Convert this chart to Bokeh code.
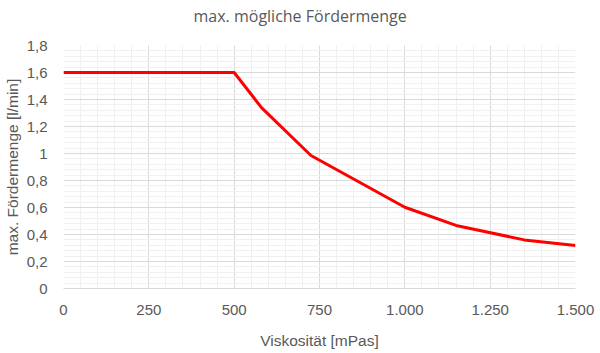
from bokeh.plotting import figure
from bokeh.models import FixedTicker, Range1d, Title
from bokeh.embed import file_html
from bokeh.resources import INLINE
import numpy as np

# data
viskositaet = [0, 500, 580, 725, 1000, 1150, 1350, 1500]
foerdermenge = [1.6, 1.6, 1.34, 0.985, 0.602, 0.467, 0.36, 0.318]

x_ticks = [0, 250, 500, 750, 1000, 1250, 1500]
x_tick_labels = ["0", "250", "500", "750", "1.000", "1.250", "1.500"]
y_ticks = [0, 0.2, 0.4, 0.6, 0.8, 1.0, 1.2, 1.4, 1.6, 1.8]
y_tick_labels = ["0", "0,2", "0,4", "0,6", "0,8", "1", "1,2", "1,4", "1,6", "1,8"]

title_text = "max. mögliche Fördermenge"
x_label = "Viskosität [mPas]"
y_label = "max. Fördermenge [l/min]"

p = figure(width=600, height=353, output_backend="svg", toolbar_location=None,
           x_range=Range1d(0, 1500), y_range=Range1d(0, 1.8),
           min_border_left=62, min_border_right=25, min_border_top=45, min_border_bottom=65)
p.outline_line_color = None
p.background_fill_color = "white"
p.border_fill_color = "white"

# spacer (closest to frame) then the real title
p.add_layout(Title(text=" ", text_font_size="16px", standoff=0), "above")
p.add_layout(Title(text=title_text, align="left", offset=130, text_font="Open Sans",
                   text_font_size="16px", text_font_style="normal",
                   text_color="#595959", standoff=0), "above")

xt = FixedTicker(ticks=x_ticks, minor_ticks=list(np.arange(0, 1501, 50)))
yt = FixedTicker(ticks=y_ticks, minor_ticks=list(np.round(np.arange(0, 1.81, 0.04), 2)))
p.xaxis.ticker = xt
p.yaxis.ticker = yt
p.xaxis.major_label_overrides = {t: l for t, l in zip(x_ticks, x_tick_labels)}
p.yaxis.major_label_overrides = {t: l for t, l in zip(y_ticks, y_tick_labels)}

for ax in (p.xaxis, p.yaxis):
    ax.major_tick_line_color = None
    ax.minor_tick_line_color = None
    ax.major_label_text_font = "Liberation Sans"
    ax.major_label_text_font_size = "15px"
    ax.major_label_text_color = "#595959"
    ax.axis_label_text_font = "Liberation Sans"
    ax.axis_label_text_font_size = "15.5px"
    ax.axis_label_text_color = "#595959"
    ax.axis_label_text_font_style = "normal"

p.xaxis.axis_line_color = "#d9d9d9"
p.yaxis.axis_line_color = None
p.xaxis.major_label_standoff = 10
p.yaxis.major_label_standoff = 10
p.xaxis.axis_label = x_label
p.yaxis.axis_label = y_label
p.xaxis.axis_label_standoff = 14
p.yaxis.axis_label_standoff = 3

for g in (p.xgrid, p.ygrid):
    g.grid_line_color = "#d9d9d9"
    g.grid_line_width = 1
    g.minor_grid_line_color = "#f0f0f0"
    g.minor_grid_line_width = 1

p.line(viskositaet, foerdermenge, line_color="#ff0000", line_width=3)

open("out.html", "w").write(file_html(p, INLINE))
